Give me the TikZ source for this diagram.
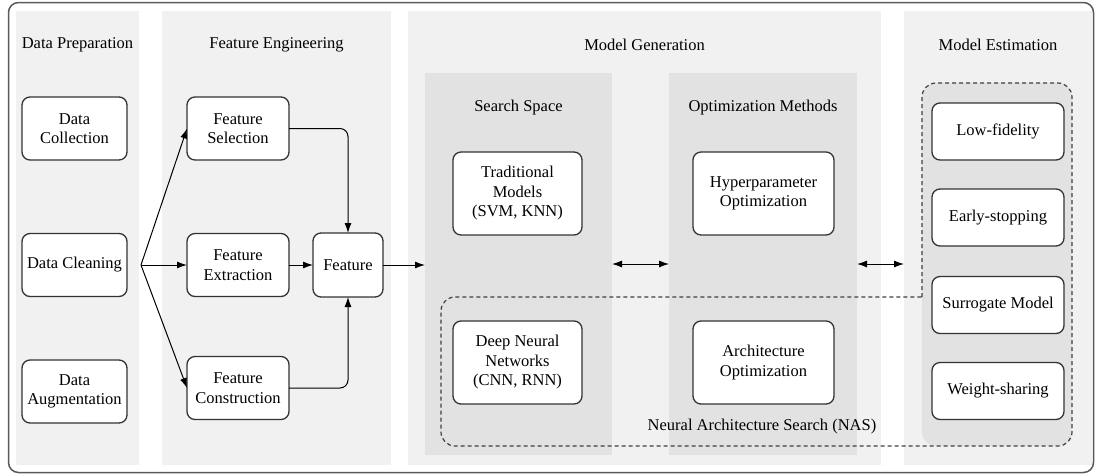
\documentclass[tikz,border=0pt]{standalone}
\usepackage{fontspec}
\setmainfont{Liberation Serif}
\usetikzlibrary{positioning,arrows.meta,calc}
\definecolor{panelgray}{HTML}{F1F1F1}
\definecolor{innergray}{HTML}{E2E2E2}
\definecolor{framegray}{HTML}{5A5A5A}
\tikzset{
node distance=20pt, % only used as a fallback, most distances are given explicitly
panel/.style={fill=panelgray, inner sep=0pt, outer sep=0pt, minimum height=454pt},
subpanel/.style={fill=innergray, inner sep=0pt, outer sep=0pt, minimum height=382pt},
box/.style={draw=black!80, line width=1.3pt, rounded corners=8pt, fill=white, align=center, inner sep=2pt, outer sep=0pt},
prepbox/.style={box, minimum width=105pt, minimum height=63pt},
featbox/.style={box, minimum width=102pt, minimum height=63pt},
modelbox/.style={box, minimum height=83pt},
estbox/.style={box, minimum width=132pt, minimum height=57pt},
link/.style={-{Latex[length=10pt,width=7pt]}, line width=1pt},
twoway/.style={{Latex[length=10pt,width=7pt]}-{Latex[length=10pt,width=7pt]}, line width=1pt},
nas/.style={draw=black!75, line width=1.2pt, dash pattern=on 4pt off 3pt, rounded corners=14pt},
}

\begin{document}
\begin{tikzpicture}[x=1pt,y=-1pt,on grid,font=\rmfamily\fontsize{16.5}{19.5}\selectfont]
		\useasboundingbox (0,0) rectangle (1096,475);
		% stage panels
		\node[panel, minimum width=123pt] (prep) at (77.5,238) {};
		\node[panel, minimum width=229pt] (feng) at (276.5,238) {};
		\node[panel, minimum width=473pt] (mgen) at (644.5,238) {};
		\node[panel, minimum width=188pt] (mest) at (998,238) {};
		\node[subpanel, minimum width=187pt] (space) at (518.5,264) {};
		\node[subpanel, minimum width=188pt] (optim) at (763,264) {};
		\fill[innergray, rounded corners=14pt] (922,83) rectangle (1072,446);
		\draw[framegray, line width=1.5pt, rounded corners=10pt] (8.5,2.5) rectangle (1093.5,472.5);
		% titles
		\node (preptitle) at ($(prep.north)+(0,34)$) {Data Preparation};
		\node (fengtitle) at ($(feng.north)+(0,34)$) {Feature Engineering};
		\node (mgentitle) at ($(mgen.north)+(0,34)$) {Model Generation};
		\node (mesttitle) at ($(mest.north)+(0,34)$) {Model Estimation};
		\node (spacetitle) at ($(space.north)+(0,35)$) {Search Space};
		\node (optimtitle) at ($(optim.north)+(0,35)$) {Optimization Methods};
		% NAS region
		\draw[nas] (922,297) -- (922,83) -- (1072,83) -- (1072,446) -- (441,446) -- (441,297) -- (922,297);
		\node (nastitle) at (762,427) {Neural Architecture Search (NAS)};
		% data preparation
		\node[prepbox] (collect) at (74.5,128.5) {Data\\Collection};
		\node[prepbox] (clean) [below=136.5pt of collect] {Data Cleaning};
		\node[prepbox] (augment) [below=126.5pt of clean] {Data\\Augmentation};
		% feature engineering
		\node[featbox] (select) at (238,128.5) {Feature\\Selection};
		\node[featbox] (extract) [below=136.5pt of select] {Feature\\Extraction};
		\node[featbox] (construct) [below=123pt of extract] {Feature\\Construction};
		\node[box, minimum width=70pt, minimum height=64pt] (feature) [right=110pt of extract] {Feature};
		% model generation
		\node[modelbox, minimum width=129pt] (trad) at (517.5,193.5) {Traditional\\Models\\(SVM, KNN)};
		\node[modelbox, minimum width=129pt] (dnn) [below=169pt of trad] {Deep Neural\\Networks\\(CNN, RNN)};
		\node[modelbox, minimum width=141pt] (hyper) [right=246pt of trad] {Hyperparameter\\Optimization};
		\node[modelbox, minimum width=141pt] (arch) [below=169pt of hyper] {Architecture\\Optimization};
		% model estimation
		\node[estbox] (lowfid) at (998,131.5) {Low-fidelity};
		\node[estbox] (early) [below=86pt of lowfid] {Early-stopping};
		\node[estbox] (surrogate) [below=87.5pt of early] {Surrogate Model};
		\node[estbox] (weight) [below=86pt of surrogate] {Weight-sharing};
		% connectors
		\coordinate (fan) at (141,265);
		\draw[link] (fan) -- (select.west);
		\draw[link] (fan) -- (extract.west);
		\draw[link] (fan) -- (construct.west);
		\draw[link, rounded corners=8pt] (select.east) -| (feature.north);
		\draw[link, rounded corners=8pt] (construct.east) -| (feature.south);
		\draw[link] (extract.east) -- (feature.west);
		\draw[link] (feature.east) -- (feature.east -| space.west);
		\draw[twoway] (space.east) -- (optim.west);
		\draw[twoway] (optim.east) -- (optim.east -| mest.west);
		\end{tikzpicture}
\end{document}
